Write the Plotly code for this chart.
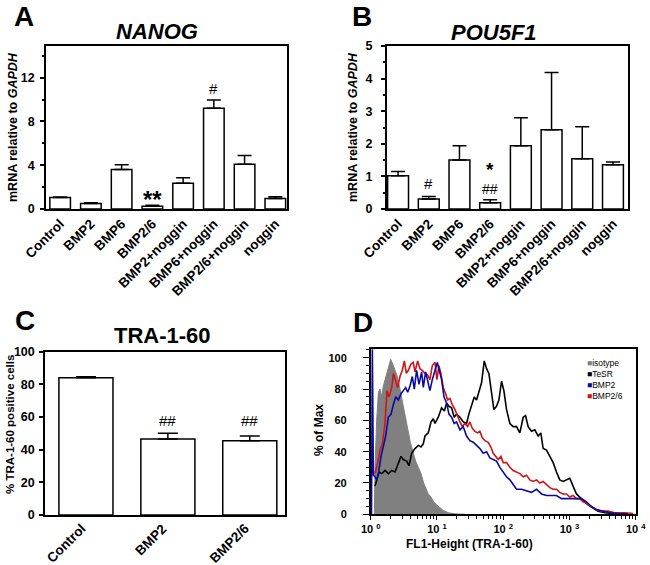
import numpy as np
import plotly.graph_objects as go

W, H = 650, 565
FONT = "Arial, Liberation Sans, sans-serif"

# ---------------- data ----------------
categories_ab = ["Control", "BMP2", "BMP6", "BMP2/6", "BMP2+noggin",
                 "BMP6+noggin", "BMP2/6+noggin", "noggin"]
nanog_mean = [1.05, 0.5, 3.6, 0.25, 2.35, 9.2, 4.1, 0.95]
nanog_err = [0.05, 0.08, 0.45, 0.1, 0.5, 0.76, 0.8, 0.16]
pou5f1_mean = [1.02, 0.31, 1.5, 0.19, 1.94, 2.43, 1.54, 1.36]
pou5f1_err = [0.13, 0.07, 0.44, 0.09, 0.86, 1.76, 0.98, 0.08]

categories_c = ["Control", "BMP2", "BMP2/6"]
tra_mean = [84.1, 46.5, 45.5]
tra_err = [0.6, 3.5, 2.9]

# flow histogram (log10 of FL1-Height, % of max)
iso_log = [0.055, 0.065, 0.090, 0.116, 0.141, 0.166, 0.191, 0.216, 0.246, 0.276,
           0.302, 0.332, 0.367, 0.402, 0.442, 0.477, 0.518, 0.558, 0.598, 0.638,
           0.678, 0.719, 0.759, 0.799, 0.829, 0.869, 0.910, 0.950, 0.995, 1.045,
           1.095, 1.171, 1.271, 1.422]
iso_val = [0, 30, 60, 78, 80, 75, 82, 86, 90, 96,
           99, 96, 92, 88, 80, 72, 62, 54, 46, 40,
           34, 30, 26, 20, 17, 13, 11, 8, 6, 4,
           2.5, 1, 0.3, 0]

tesr_log = [0.065, 0.090, 0.126, 0.166, 0.216, 0.266, 0.317, 0.367, 0.417, 0.457,
            0.492, 0.543, 0.578, 0.618, 0.668, 0.719, 0.759, 0.794, 0.819, 0.869,
            0.910, 0.945, 0.970, 1.020, 1.070, 1.111, 1.146, 1.181, 1.221, 1.261,
            1.296, 1.347, 1.397, 1.447, 1.482, 1.523, 1.563, 1.598, 1.633, 1.673,
            1.714, 1.749, 1.784, 1.824, 1.859, 1.899, 1.935, 1.975, 2.010, 2.050,
            2.101, 2.151, 2.201, 2.251, 2.302, 2.337, 2.377, 2.427, 2.477, 2.528,
            2.568, 2.603, 2.653, 2.704, 2.754, 2.804, 2.854, 2.905, 2.955, 3.005,
            3.055, 3.106, 3.156, 3.206, 3.281, 3.357, 3.432, 3.533, 3.633, 3.734]
tesr_val = [18, 22, 27, 26, 28, 26, 28, 27, 33, 37,
            35, 34, 31, 39, 42, 44, 43, 45, 50, 52,
            59, 61, 58, 62, 68, 66, 71, 69, 68, 62,
            64, 62, 59, 58, 64, 70, 75, 73, 79, 84,
            98, 93, 90, 79, 67, 69, 73, 85, 79, 67,
            58, 56, 56, 52, 62, 63, 56, 53, 54, 50,
            52, 42, 41, 37, 33, 27, 22, 21, 22, 23,
            18, 13, 11, 9, 6, 4, 2, 1, 0.5, 0.3]

bmp2_log = [0.012, 0.015, 0.025, 0.04, 0.065, 0.090, 0.116, 0.156, 0.191, 0.226,
            0.266, 0.307, 0.342, 0.377, 0.417, 0.457, 0.492, 0.528, 0.558, 0.593,
            0.628, 0.658, 0.693, 0.729, 0.769, 0.794, 0.829, 0.859, 0.894, 0.930,
            0.970, 1.005, 1.035, 1.070, 1.106, 1.146, 1.181, 1.221, 1.261, 1.296,
            1.347, 1.397, 1.447, 1.497, 1.548, 1.598, 1.648, 1.698, 1.749, 1.799,
            1.849, 1.899, 1.950, 2.000, 2.050, 2.101, 2.151, 2.201, 2.276, 2.352,
            2.427, 2.503, 2.578, 2.653, 2.729, 2.804, 2.879, 2.955, 3.030, 3.106,
            3.181, 3.256, 3.332, 3.407, 3.508, 3.608, 3.734, 3.884]
bmp2_val = [0, 106, 106, 25, 24, 22, 26, 37, 43, 50,
            62, 64, 70, 75, 73, 77, 79, 81, 78, 82,
            88, 80, 92, 83, 91, 81, 91, 86, 79, 86,
            92, 97, 92, 86, 75, 71, 64, 62, 58, 59,
            54, 56, 50, 47, 46, 44, 42, 39, 40, 36,
            35, 34, 30, 27, 24, 22, 19, 16, 16, 15,
            14, 16, 13, 12, 12, 12, 10, 10, 10, 10,
            10, 8, 5, 3, 2, 1, 0.5, 0.3]

bmp26_log = [0.065, 0.106, 0.141, 0.176, 0.216, 0.246, 0.276, 0.317, 0.342, 0.367,
             0.407, 0.442, 0.477, 0.508, 0.538, 0.568, 0.608, 0.643, 0.668, 0.709,
             0.744, 0.779, 0.819, 0.859, 0.894, 0.930, 0.970, 1.000, 1.030, 1.060,
             1.095, 1.131, 1.161, 1.196, 1.231, 1.271, 1.312, 1.347, 1.382, 1.422,
             1.462, 1.497, 1.533, 1.573, 1.613, 1.648, 1.683, 1.724, 1.774, 1.814,
             1.849, 1.884, 1.925, 1.965, 2.000, 2.050, 2.101, 2.151, 2.201, 2.251,
             2.302, 2.352, 2.402, 2.452, 2.503, 2.553, 2.603, 2.653, 2.704, 2.754,
             2.804, 2.854, 2.905, 2.955, 3.005, 3.055, 3.106, 3.156, 3.206, 3.256,
             3.332, 3.407, 3.482, 3.583, 3.683, 3.834, 3.960]
bmp26_val = [26, 33, 41, 45, 58, 79, 75, 81, 90, 86,
             81, 88, 92, 98, 90, 92, 96, 97, 91, 98,
             93, 92, 90, 89, 86, 95, 97, 86, 95, 90,
             81, 77, 73, 74, 70, 67, 62, 59, 56, 58,
             56, 59, 55, 53, 52, 53, 49, 47, 46, 43,
             39, 37, 35, 37, 33, 33, 30, 28, 27, 26,
             24, 25, 22, 21, 22, 20, 21, 19, 17, 16,
             16, 14, 13, 13, 11, 12, 10, 10, 8, 7,
             5, 3, 2, 2, 1, 1, 0.5]

legend_names = ["isotype", "TeSR", "BMP2", "BMP2/6"]
legend_colors = ["#808080", "#000000", "#0a0aa0", "#d01414"]

# ---------------- helpers (window pixels -> paper fractions) ----------------
def px(x):
    return x / W

def py(y):
    return 1 - y / H

fig = go.Figure()

bar_style = dict(marker=dict(color="white", line=dict(color="black", width=1.5)),
                 showlegend=False)

def err(arr, w):
    return dict(type="data", array=arr, arrayminus=[0] * len(arr), symmetric=False,
                color="black", thickness=1.5, width=w)

fig.add_trace(go.Bar(x=categories_ab, y=nanog_mean, error_y=err(nanog_err, 7),
                     width=0.67, xaxis="x", yaxis="y", **bar_style))
fig.add_trace(go.Bar(x=categories_ab, y=pou5f1_mean, error_y=err(pou5f1_err, 7),
                     width=0.68, xaxis="x2", yaxis="y2", **bar_style))
fig.add_trace(go.Bar(x=categories_c, y=tra_mean, error_y=err(tra_err, 10),
                     width=0.66, xaxis="x3", yaxis="y3", **bar_style))

# histograms
fig.add_trace(go.Scatter(x=10 ** np.array(iso_log), y=iso_val, mode="lines",
                         fill="tozeroy", fillcolor="#808080",
                         line=dict(color="#808080", width=1), xaxis="x4", yaxis="y4",
                         name="isotype", showlegend=False))
fig.add_trace(go.Scatter(x=10 ** np.array(tesr_log), y=tesr_val, mode="lines",
                         line=dict(color="#000000", width=1.6), xaxis="x4", yaxis="y4",
                         name="TeSR", showlegend=False))
fig.add_trace(go.Scatter(x=10 ** np.array(bmp26_log), y=bmp26_val, mode="lines",
                         line=dict(color="#d01414", width=1.6), xaxis="x4", yaxis="y4",
                         name="BMP2/6", showlegend=False))
fig.add_trace(go.Scatter(x=10 ** np.array(bmp2_log), y=bmp2_val, mode="lines",
                         line=dict(color="#0a0aa0", width=1.6), xaxis="x4", yaxis="y4",
                         name="BMP2", showlegend=False))

tickfont = dict(family=FONT, size=12.5, color="black", weight="bold")
catfont = dict(family=FONT, size=13.5, color="black", weight="bold")

def xcat(domain, rng, anchor, labels=True):
    return dict(domain=domain, range=rng, anchor=anchor, showline=True, linecolor="black",
                linewidth=1.5, mirror=True, ticks="", tickangle=-45, tickfont=catfont,
                showticklabels=labels, showgrid=False, zeroline=False, automargin=False)

def yleft(domain, rng, dtick, minor, anchor, standoff):
    d = dict(domain=domain, range=rng, anchor=anchor, showline=True, linecolor="black",
             linewidth=1.5, mirror=True, ticks="outside", ticklen=4, tickwidth=1.5,
             tickcolor="black", dtick=dtick, tick0=0, tickfont=tickfont, showgrid=False,
             zeroline=False, automargin=False, ticklabelstandoff=standoff)
    if minor:
        d["minor"] = dict(dtick=minor, ticks="outside", ticklen=2, tickwidth=1.5,
                          tickcolor="black", showgrid=False)
    return d

def yright(rng, dtick, overlay, anchor):
    return dict(range=rng, overlaying=overlay, anchor=anchor, side="right",
                ticks="inside", ticklen=4, tickwidth=1.5, tickcolor="black",
                dtick=dtick, tick0=0, showticklabels=False, showgrid=False,
                zeroline=False, showline=False, automargin=False)

dom_ab_y = [py(209), py(46)]
dom_cd_y = [py(515), py(351.7)]

fig.update_layout(
    width=W, height=H, margin=dict(l=0, r=0, t=0, b=0),
    paper_bgcolor="white", plot_bgcolor="white",
    font=dict(family=FONT, color="black"),
    bargap=0.3,
    xaxis=xcat([px(46), px(287)], [-0.46, 7.38], "y"),
    yaxis=yleft(dom_ab_y, [0, 14.9], 4, 2, "x", 3),
    xaxis2=xcat([px(386.7), px(627.7)], [-0.37, 7.48], "y2"),
    yaxis2=yleft(dom_ab_y, [0, 5], 1, 0.5, "x2", 6),
    xaxis3=xcat([px(45), px(285)], [-0.5, 2.43], "y3", labels=False),
    yaxis3=yleft(dom_cd_y, [0, 100], 20, None, "x3", 2),
    xaxis4=dict(domain=[px(370.7), px(635.7)], type="log", range=[0, 4], anchor="y4",
                showline=True, linecolor="black", linewidth=1.5, mirror=True,
                ticks="outside", ticklen=4, tickwidth=1.2, tickcolor="black",
                tickvals=[1, 10, 100, 1000, 10000],
                ticktext=["10 <sup>0</sup>", "10 <sup>1</sup>", "10 <sup>2</sup>",
                          "10 <sup>3</sup>", "10 <sup>4</sup>"],
                tickfont=dict(family=FONT, size=11, color="black", weight="bold"),
                minor=dict(dtick="D1", ticks="outside", ticklen=3, tickwidth=1,
                           tickcolor="black", showgrid=False),
                showgrid=False, zeroline=False, automargin=False),
    yaxis4=dict(domain=[py(514.3), py(349.3)], range=[0, 105.4], anchor="x4",
                showline=True, linecolor="black", linewidth=1.5, mirror=True,
                ticks="outside", ticklen=6, tickwidth=1.2, tickcolor="black",
                dtick=20, tick0=0,
                tickfont=dict(family=FONT, size=11, color="black", weight="bold"),
                minor=dict(dtick=5, ticks="outside", ticklen=3, tickwidth=1,
                           tickcolor="black", showgrid=False),
                showgrid=False, zeroline=False, automargin=False, ticklabelstandoff=14),
    yaxis5=yright([0, 14.9], 2, "y", "x"),
    yaxis6=yright([0, 5], 0.5, "y2", "x2"),
    yaxis7=yright([0, 100], 20, "y3", "x3"),
)

ann = []

def label(text, x, y, size, **kw):
    d = dict(text=text, x=px(x), y=py(y), xref="paper", yref="paper", showarrow=False,
             font=dict(family=FONT, size=size, color="black"),
             xanchor="center", yanchor="middle")
    d.update(kw)
    ann.append(d)

# panel letters
label("<b>A</b>", 24, 17, 28)
label("<b>B</b>", 362, 17, 28)
label("<b>C</b>", 25, 320, 28)
label("<b>D</b>", 363, 322, 28)
# titles
label("<b><i>NANOG</i></b>", 157, 31, 22)
label("<b><i>POU5F1</i></b>", 494, 32, 22)
label("<b>TRA-1-60</b>", 162, 335, 22)
# axis titles
label("<b>mRNA relative to <i>GAPDH</i></b>", 13, 127, 12.5, textangle=-90)
label("<b>mRNA relative to <i>GAPDH</i></b>", 353, 127, 12.5, textangle=-90)
label("<b>% TRA-1-60 positive cells</b>", 10, 425, 11.5, textangle=-90)
label("<b>% of Max</b>", 319, 430, 12, textangle=-90)
label("<b>FL1-Height (TRA-1-60)</b>", 469, 544, 12)

# rotated category labels of panel C (end of text at the category, just below axis)
for cat in categories_c:
    ann.append(dict(text=cat, x=cat, xref="x3", y=py(518), yref="paper",
                    xshift=5, showarrow=False, textangle=-45,
                    xanchor="right", yanchor="top", font=catfont))

# legend for D (one text block)
legend_text = "<br>".join(
    f'<span style="color:{col}">■</span>{nm}' for nm, col in zip(legend_names, legend_colors))
ann.append(dict(text=legend_text, x=px(585), y=py(356), xref="paper", yref="paper",
                showarrow=False, xanchor="left", yanchor="top", align="left",
                font=dict(family=FONT, size=8.5, color="black")))

# significance marks (data coordinates)
def sig(text, xcat_, y, xr, yr, size):
    ann.append(dict(text=text, x=xcat_, y=y, xref=xr, yref=yr,
                    showarrow=False, xanchor="center", yanchor="middle",
                    font=dict(family=FONT, size=size, color="black")))

sig("<b>**</b>", "BMP2/6", 0.9, "x", "y", 24)
sig("#", "BMP6+noggin", 11.0, "x", "y", 15)
sig("#", "BMP2", 0.79, "x2", "y2", 15)
sig('<span style="font-size:19px"><b>*</b></span><br>##', "BMP2/6", 0.96, "x2", "y2", 14)
sig("##", "BMP2", 58, "x3", "y3", 15)
sig("##", "BMP2/6", 58, "x3", "y3", 15)

fig.update_layout(annotations=ann)

fig.write_html("out.html", config={"displayModeBar": False},
               post_script="document.body.style.margin='0';")
